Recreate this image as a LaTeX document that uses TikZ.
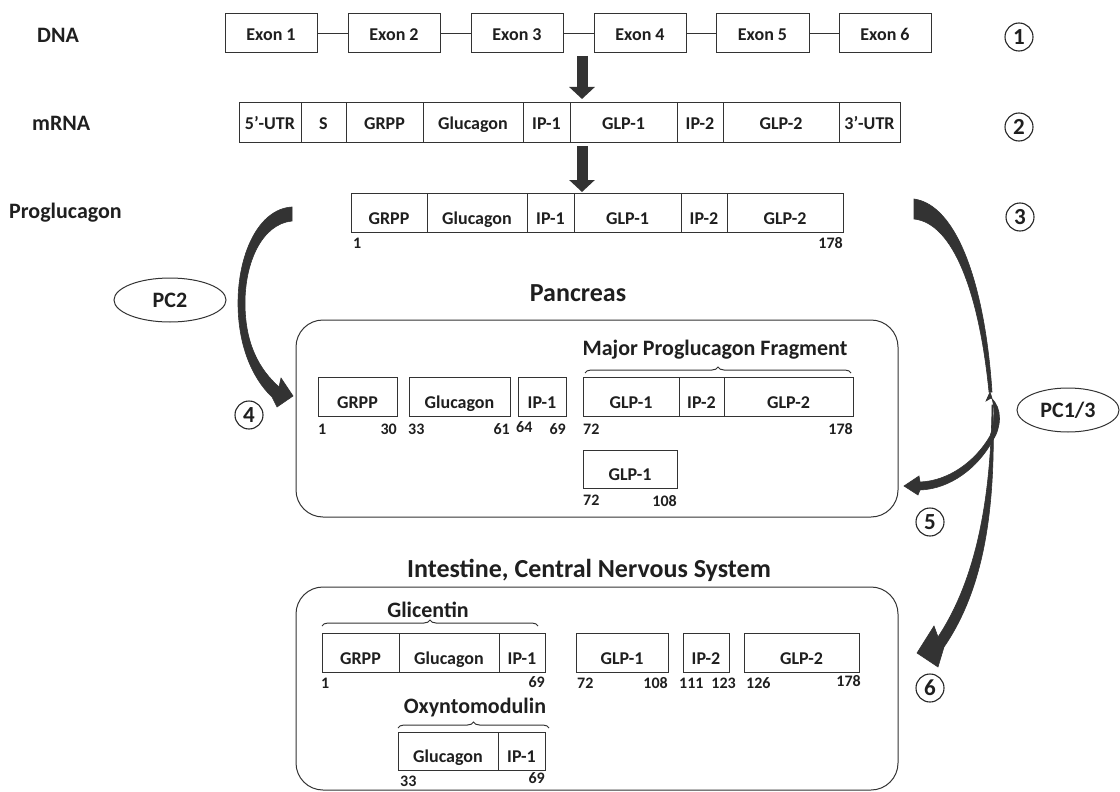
\documentclass[tikz,border=0pt]{standalone}
\usepackage{fontspec}
\setmainfont{Carlito}
\usetikzlibrary{arrows.meta,decorations.pathreplacing,shapes.geometric}
\begin{document}
\begin{tikzpicture}[x=1pt,y=-1pt,
  box/.style={draw=black!80, line width=1pt, minimum height=39pt, inner sep=0pt, text height=14.6pt, text depth=0pt, font=\fontsize{18}{20}\selectfont\bfseries, text=black!88},
  lowbox/.style={box, text height=23.4pt},
  num/.style={inner sep=0pt, font=\fontsize{16}{17}\selectfont\bfseries, text=black!88},
  side/.style={inner sep=0pt, anchor=west, font=\fontsize{22}{24}\selectfont\bfseries, text=black!88},
  ttl/.style={inner sep=0pt, font=\fontsize{26}{28}\selectfont\bfseries, text=black!88},
  sub/.style={inner sep=0pt, font=\fontsize{22}{24}\selectfont\bfseries, text=black!88},
  enz/.style={ellipse, draw=black!80, line width=1pt, inner sep=0pt, minimum height=44pt, font=\fontsize{22}{24}\selectfont\bfseries, text=black!88},
  circ/.style={circle, draw=black!85, line width=1.1pt, minimum size=28pt, inner sep=0pt, font=\fontsize{23}{24}\selectfont\bfseries, text=black!88},
  region/.style={draw=black!80, line width=1pt, rounded corners=27pt},
  brc/.style={draw=black!80, line width=1pt, decorate, decoration={brace, amplitude=6pt}},
  bigarrow/.style={draw=black!80, line width=11pt, -{Triangle[width=25pt,length=12pt]}},
  curvearrow/.style={fill=black!80, draw=black!80, line width=0.6pt}
]
\useasboundingbox (0,0) rectangle (1120,792);
\fill[white] (0,0) rectangle (1120,792);

% ---------- DNA ----------
\node[side] (dna) at (37,35) {DNA};
\node[box, minimum width=92pt] (e1) at (271,33.5) {Exon 1};
\node[box, minimum width=92pt] (e2) at (394,33.5) {Exon 2};
\node[box, minimum width=92pt] (e3) at (517,33.5) {Exon 3};
\node[box, minimum width=92pt] (e4) at (640,33.5) {Exon 4};
\node[box, minimum width=93pt] (e5) at (762.5,33.5) {Exon 5};
\node[box, minimum width=92pt] (e6) at (885,33.5) {Exon 6};
\draw[draw=black!80, line width=1pt] (e1.east) -- (e2.west) (e2.east) -- (e3.west) (e3.east) -- (e4.west) (e4.east) -- (e5.west) (e5.east) -- (e6.west);
\node[circ] (c1) at (1019,37) {1};

\coordinate (a1s) at (582,56);
\coordinate (a1e) at (582,99);
\draw[bigarrow] (a1s) -- (a1e);

% ---------- mRNA ----------
\node[side] (mrna) at (32,123) {mRNA};
\node[box, minimum width=62pt] (m1) at (270,122.5) {5’-UTR};
\node[box, minimum width=45pt] (m2) at (323.5,122.5) {S};
\node[box, minimum width=77pt] (m3) at (384.5,122.5) {GRPP};
\node[box, minimum width=100pt] (m4) at (473,122.5) {Glucagon};
\node[box, minimum width=47pt] (m5) at (546.5,122.5) {IP-1};
\node[box, minimum width=107pt] (m6) at (623.5,122.5) {GLP-1};
\node[box, minimum width=46pt] (m7) at (700,122.5) {IP-2};
\node[box, minimum width=116pt] (m8) at (781,122.5) {GLP-2};
\node[box, minimum width=61pt] (m9) at (869.5,122.5) {3’-UTR};
\node[circ] (c2) at (1019,127) {2};

\coordinate (a2s) at (582,146);
\coordinate (a2e) at (582,192);
\draw[bigarrow] (a2s) -- (a2e);

% ---------- Proglucagon ----------
\node[side] (prog) at (9,213) {Proglucagon};
\node[lowbox, minimum width=76pt] (p1) at (389,212.5) {GRPP};
\node[lowbox, minimum width=100pt] (p2) at (477,212.5) {Glucagon};
\node[lowbox, minimum width=47pt] (p3) at (550.5,212.5) {IP-1};
\node[lowbox, minimum width=107pt] (p4) at (627.5,212.5) {GLP-1};
\node[lowbox, minimum width=46pt] (p5) at (704,212.5) {IP-2};
\node[lowbox, minimum width=116pt] (p6) at (785,212.5) {GLP-2};
\node[num, anchor=west] (pn1) at (353,243) {1};
\node[num, anchor=east] (pn2) at (843,243) {178};
\node[circ] (c3) at (1020,217) {3};

% ---------- PC2 arrow ----------
\node[enz, minimum width=112pt] (pc2) at (170,300) {PC2};
\filldraw[curvearrow] (292,207) .. controls (258,209) and (238,255) .. (238,303)
  .. controls (238,345) and (252,378) .. (272,397) -- (277,407) -- (293,396) -- (281,378) -- (279,387)
  .. controls (260,370) and (245,345) .. (245,303)
  .. controls (245,262) and (262,224) .. (292,221) -- cycle;
\node[circ] (c4) at (249,415) {4};

% ---------- Pancreas ----------
\node[ttl] (pan) at (578,293) {Pancreas};
\draw[region] (296,320) rectangle (898,517);
\node[sub] (mpf) at (715,350) {Major Proglucagon Fragment};
\draw[brc] (585,373) -- (851,373);
\node[lowbox, minimum width=79pt] (k1) at (357.5,396.5) {GRPP};
\node[lowbox, minimum width=101pt] (k2) at (459.5,396.5) {Glucagon};
\node[lowbox, minimum width=48pt] (k3) at (542,396.5) {IP-1};
\node[lowbox, minimum width=96pt] (k4) at (631,396.5) {GLP-1};
\node[lowbox, minimum width=45pt] (k5) at (701.5,396.5) {IP-2};
\node[lowbox, minimum width=129pt] (k6) at (788.5,396.5) {GLP-2};
\node[lowbox, minimum width=94pt, minimum height=38pt] (k7) at (630,469) {GLP-1};
\node[num, anchor=west] (kn1) at (318,429) {1};
\node[num, anchor=east] (kn2) at (397,429) {30};
\node[num, anchor=west] (kn3) at (408,429) {33};
\node[num, anchor=east] (kn4) at (510,429) {61};
\node[num, anchor=west] (kn5) at (516,427) {64};
\node[num, anchor=east] (kn6) at (566,429) {69};
\node[num, anchor=west] (kn7) at (583,429) {72};
\node[num, anchor=east] (kn8) at (853,429) {178};
\node[num, anchor=west] (kn9) at (583,500) {72};
\node[num, anchor=east] (kn10) at (677,501) {108};

% ---------- PC1/3 arrows ----------
\node[enz, minimum width=102pt] (pc13) at (1068,410) {PC1/3};
\filldraw[curvearrow] (914,199) .. controls (957,205) and (985,285) .. (992,392) -- (989,392)
  .. controls (979,292) and (953,223) .. (914,219) -- cycle;
\filldraw[curvearrow] (990,392) -- (986,401) -- (991,398) .. controls (1003,408) and (1001,428) .. (993,440)
  .. controls (978,468) and (950,489) .. (920,490) -- (918,495) -- (904,486) -- (919,476) -- (920,482)
  .. controls (948,481) and (975,462) .. (990,436)
  .. controls (996,422) and (995,405) .. (990,392) -- cycle;
\filldraw[curvearrow] (993,405) .. controls (995,490) and (990,580) .. (944,647) -- (938,667) -- (917,653) -- (934,626) -- (938,637)
  .. controls (979,575) and (991,490) .. (992,405) -- cycle;
\node[circ] (c5) at (930,522) {5};
\node[circ] (c6) at (930,688) {6};

% ---------- Intestine ----------
\node[ttl] (int) at (589,570) {Intestine, Central Nervous System};
\draw[region] (296,587) rectangle (898,790);
\node[sub] (gli) at (428,610) {Glicentin};
\draw[brc] (322,626) -- (538,626);
\node[lowbox, minimum width=77pt] (g1) at (360.5,652.5) {GRPP};
\node[lowbox, minimum width=100pt] (g2) at (449,652.5) {Glucagon};
\node[lowbox, minimum width=46pt] (g3) at (522,652.5) {IP-1};
\node[lowbox, minimum width=92pt] (g4) at (622,652.5) {GLP-1};
\node[lowbox, minimum width=46pt] (g5) at (706,652.5) {IP-2};
\node[lowbox, minimum width=115pt] (g6) at (801.5,652.5) {GLP-2};
\node[num, anchor=west] (gn1) at (321,683) {1};
\node[num, anchor=east] (gn2) at (545,682) {69};
\node[num, anchor=west] (gn3) at (577,683) {72};
\node[num, anchor=east] (gn4) at (668,683) {108};
\node[num, anchor=west] (gn5) at (679,683) {111};
\node[num, anchor=east] (gn6) at (736,683) {123};
\node[num, anchor=west] (gn7) at (746,683) {126};
\node[num, anchor=east] (gn8) at (861,681) {178};
\node[sub] (oxm) at (475,708) {Oxyntomodulin};
\draw[brc] (398,728) -- (549,728);
\node[lowbox, minimum width=100pt, minimum height=38pt] (o1) at (448,751) {Glucagon};
\node[lowbox, minimum width=47pt, minimum height=38pt] (o2) at (521.5,751) {IP-1};
\node[num, anchor=west] (on1) at (400,781) {33};
\node[num, anchor=east] (on2) at (545,778) {69};
\end{tikzpicture}
\end{document}
